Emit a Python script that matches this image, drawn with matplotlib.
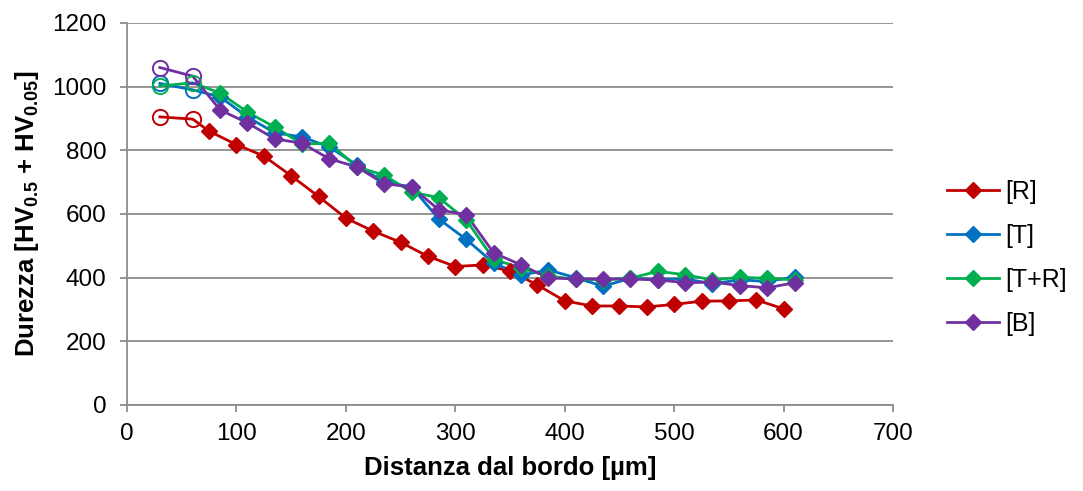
import matplotlib.pyplot as plt
from matplotlib.lines import Line2D

plt.rcParams['font.family'] = ['Liberation Sans', 'DejaVu Sans']
plt.rcParams['mathtext.fontset'] = 'custom'
plt.rcParams['mathtext.rm'] = 'Liberation Sans'
plt.rcParams['mathtext.bf'] = 'Liberation Sans:bold'

# hardness profiles, distance from edge in micrometres
x_r = [30, 60, 75, 100, 125, 150, 175, 200, 225, 250, 275, 300, 325, 350,
       375, 400, 425, 450, 475, 500, 525, 550, 575, 600]
hv_r = [905, 898, 860, 818, 782, 720, 655, 587, 546, 511, 467, 435, 440, 421,
        377, 327, 311, 311, 308, 316, 326, 327, 330, 302]

x_tb = [30, 60, 85, 110, 135, 160, 185, 210, 235, 260, 285, 310, 335, 360,
        385, 410, 435, 460, 485, 510, 535, 560, 585, 610]
hv_t = [1010, 990, 968, 905, 855, 842, 810, 754, 700, 685, 584, 520, 446, 408,
        424, 400, 373, 398, 394, 396, 381, 393, 388, 402]
hv_tr = [1002, 1012, 980, 920, 873, 820, 822, 748, 722, 669, 651, 581, 458, 430,
         405, 395, 394, 398, 420, 409, 393, 401, 398, 393]
hv_b = [1060, 1033, 927, 886, 836, 822, 773, 748, 695, 685, 613, 598, 478, 440,
        399, 396, 395, 396, 393, 384, 386, 375, 368, 384]

series = [
    ('[R]', x_r, hv_r, '#C00000'),
    ('[T]', x_tb, hv_t, '#0070C0'),
    ('[T+R]', x_tb, hv_tr, '#00B050'),
    ('[B]', x_tb, hv_b, '#7030A0'),
]

fig = plt.figure(figsize=(10.83, 4.91), dpi=100)
ax = fig.add_axes([0.1173, 0.1752, 0.7073, 0.778])

handles = []
for name, xs, ys, col in series:
    ax.plot(xs, ys, color=col, lw=2.0, zorder=3)
    ax.plot(xs[2:], ys[2:], ls='none', marker='D', ms=8, color=col, zorder=4)
    # first two points: open circles
    ax.plot(xs[:2], ys[:2], ls='none', marker='o', ms=11, mfc='none',
            mec=col, mew=1.4, zorder=4)
    handles.append(Line2D([], [], color=col, lw=2.0, marker='D', ms=8))

ax.set_xlim(0, 700)
ax.set_ylim(0, 1200)
ax.set_xticks(range(0, 701, 100))
ax.set_yticks(range(0, 1201, 200))
ax.yaxis.grid(True, color='#8c8c8c', lw=1.3)
ax.set_axisbelow(True)
for s in ['top', 'right']:
    ax.spines[s].set_visible(False)
for s in ['left', 'bottom']:
    ax.spines[s].set_color('#8c8c8c')
    ax.spines[s].set_linewidth(1.3)
ax.tick_params(axis='both', direction='out', length=5, width=1.3,
               color='#8c8c8c', labelsize=17.5)
ax.tick_params(axis='y', pad=10)
ax.tick_params(axis='x', pad=8)

ax.set_xlabel('Distanza dal bordo [µm]', fontsize=18.5, fontweight='bold',
              labelpad=8)
ax.set_ylabel(r'Durezza [HV$_\mathbf{0.5}$ + HV$_\mathbf{0.05}$]',
              fontsize=18.5, fontweight='bold', labelpad=8)

fig.legend(handles, [s[0] for s in series], loc='center left',
           bbox_to_anchor=(0.874, 0.475), borderaxespad=0, borderpad=0,
           frameon=False, fontsize=18, handlelength=2.1, handletextpad=0.25,
           labelspacing=0.8)

fig.savefig('out.png', dpi=100)
